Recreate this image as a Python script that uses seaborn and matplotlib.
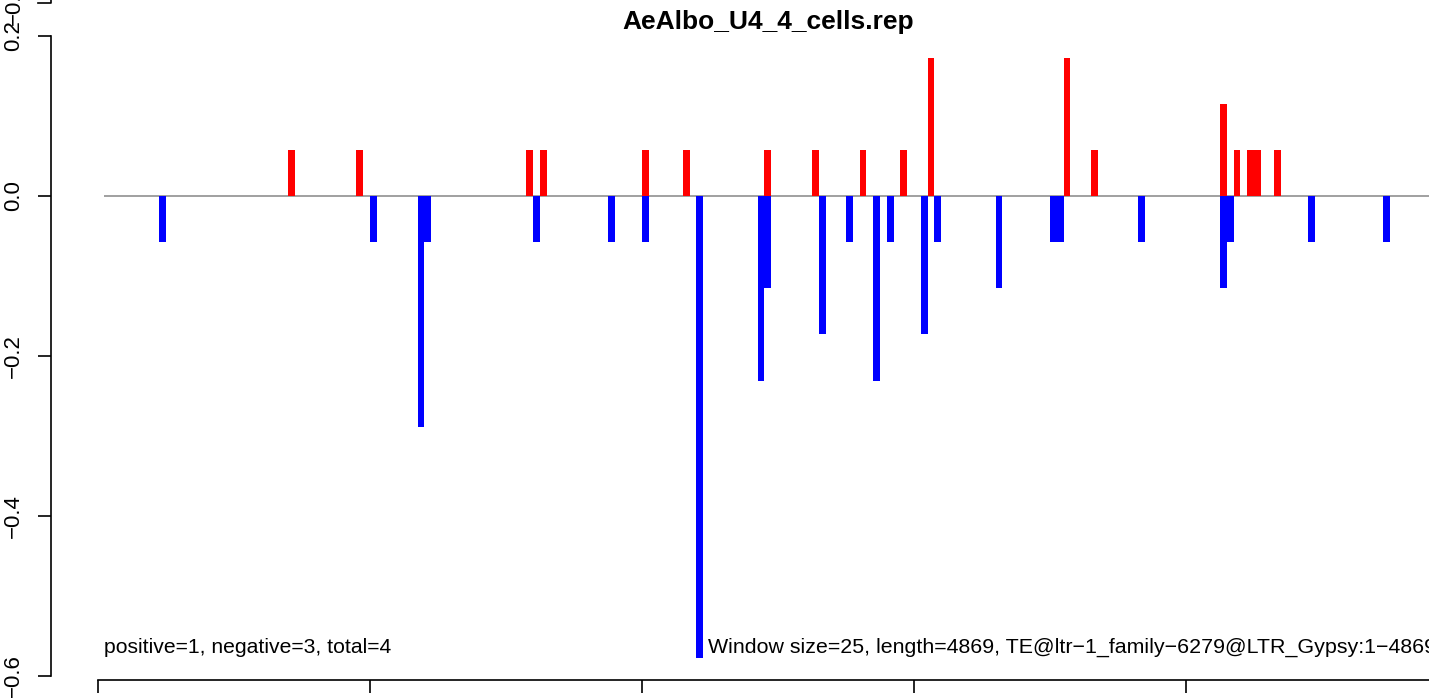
import pandas as pd
import numpy as np
import seaborn as sns
import matplotlib.pyplot as plt
from matplotlib.lines import Line2D

# window start (bp) and score per window
pos_start = [700, 950, 1575, 1625, 2000, 2150, 2450, 2625, 2800, 2950, 3050,
             3550, 3650, 4125, 4175, 4225, 4250, 4325]
pos_value = [0.058, 0.058, 0.058, 0.058, 0.058, 0.058, 0.058, 0.058, 0.058,
             0.058, 0.173, 0.173, 0.058, 0.115, 0.058, 0.058, 0.058, 0.058]
neg_start = [225, 1000, 1175, 1200, 1600, 1875, 2000, 2200, 2425, 2450, 2650,
             2750, 2850, 2900, 3025, 3075, 3300, 3500, 3525, 3825, 4125, 4150,
             4450, 4725]
neg_value = [-0.058, -0.058, -0.289, -0.058, -0.058, -0.058, -0.058, -0.577,
             -0.231, -0.115, -0.173, -0.058, -0.231, -0.058, -0.173, -0.058,
             -0.115, -0.058, -0.058, -0.058, -0.115, -0.058, -0.058, -0.058]

window = 25
seq_len = 4869
title = "AeAlbo_U4_4_cells.rep"
left_note = "positive=1, negative=3, total=4"
right_note = ("Window size=25, length=4869, "
              "TE@ltr\u22121_family\u22126279@LTR_Gypsy:1\u22124869")
y_ticks = [-0.6, -0.4, -0.2, 0.0, 0.2]
x_ticks = [0, 1000, 2000, 3000, 4000, 5000]

plt.rcParams['font.family'] = ['Liberation Sans', 'DejaVu Sans']

df = pd.concat([
    pd.DataFrame({'start': pos_start, 'value': pos_value, 'sign': 'pos'}),
    pd.DataFrame({'start': neg_start, 'value': neg_value, 'sign': 'neg'}),
])
df['mid'] = df['start'] + window / 2

W, H = 1429, 698
fig = plt.figure(figsize=(W / 100, H / 100), dpi=100)
ax = fig.add_axes([51 / W, 18 / H, (1486 - 51) / W, 680 / H])

ax.hlines(0, 22, 5200, color='#999999', lw=1.3, zorder=1)
sns.barplot(data=df, x='mid', y='value', hue='sign',
            palette={'pos': '#FF0000', 'neg': '#0000FF'},
            native_scale=True, dodge=False, width=1.0, errorbar=None,
            legend=False, linewidth=0, saturation=1, ax=ax, zorder=2)

ax.set_xlim(-172.8, 5103)
ax.set_ylim(-0.605, 0.245)
ax.set_xlabel("")
ax.set_ylabel("")

for s in ['top', 'right']:
    ax.spines[s].set_visible(False)
ax.spines['left'].set_bounds(-0.6, 0.2)
ax.spines['bottom'].set_bounds(0, 5000)
for s in ['left', 'bottom']:
    ax.spines[s].set_linewidth(1.2)
    ax.spines[s].set_color('black')

ax.set_yticks(y_ticks)
ax.set_yticklabels([f"{v:.1f}".replace("-", "\u2212") for v in y_ticks],
                   rotation=90, va='center')
# x tick labels fall below the canvas in the original
ax.set_xticks(x_ticks)
ax.set_xticklabels([])
ax.tick_params(axis='both', length=9.4, width=1.2, color='black',
               labelsize=16, pad=10)

fig.text(768 / W, 1 - 22 / H, title, ha='center', va='center',
         fontsize=19, fontweight='bold')
ax.text(22, -0.564, left_note, ha='left', va='center', fontsize=15.2)
ax.text(2243, -0.564, right_note, ha='left', va='center', fontsize=15.4)

# bottom of the panel above, cut by the figure edge
fig.add_artist(Line2D([38 / W, 51 / W, 51 / W], [1 - 3 / H, 1 - 3 / H, 1.0],
                      transform=fig.transFigure, color='black', lw=1.2))
fig.text(14 / W, 1 - 3 / H, "\u22120.6", rotation=90, ha='center',
         va='center', fontsize=16)

fig.savefig("out.png", dpi=100)
